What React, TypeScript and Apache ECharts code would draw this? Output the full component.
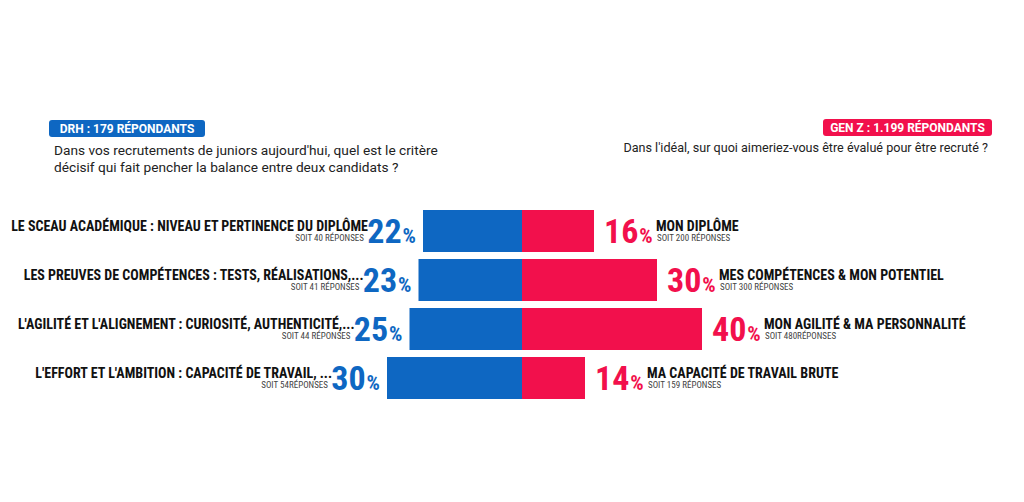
import React, { useEffect, useRef } from "react";
import * as echarts from "echarts";

// Survey results: recruiters (DRH) on the left, Gen Z candidates on the right
const rows = ["1", "2", "3", "4"];

const drhCriteria = [
  "LE SCEAU ACADÉMIQUE : NIVEAU ET PERTINENCE DU DIPLÔME",
  "LES PREUVES DE COMPÉTENCES : TESTS, RÉALISATIONS,...",
  "L'AGILITÉ ET L'ALIGNEMENT : CURIOSITÉ, AUTHENTICITÉ,...",
  "L'EFFORT ET L'AMBITION : CAPACITÉ DE TRAVAIL, ...",
];
const drhValues = [22, 23, 25, 30];
const drhCounts = [
  "SOIT 40 RÉPONSES",
  "SOIT 41 RÉPONSES",
  "SOIT 44 RÉPONSES",
  "SOIT 54RÉPONSES",
];

const genzCriteria = [
  "MON DIPLÔME",
  "MES COMPÉTENCES & MON POTENTIEL",
  "MON AGILITÉ & MA PERSONNALITÉ",
  "MA CAPACITÉ DE TRAVAIL BRUTE",
];
const genzValues = [16, 30, 40, 14];
const genzCounts = [
  "SOIT 200 RÉPONSES",
  "SOIT 300 RÉPONSES",
  "SOIT 480RÉPONSES",
  "SOIT 159 RÉPONSES",
];

const drhBadge = "DRH : 179 RÉPONDANTS";
const drhQuestion = [
  "Dans vos recrutements de juniors aujourd'hui, quel est le critère",
  "décisif qui fait pencher la balance entre deux candidats ?",
];
const genzBadge = "GEN Z : 1.199 RÉPONDANTS";
const genzQuestion = "Dans l'idéal, sur quoi aimeriez-vous être évalué pour être recruté ?";

const BLUE = "#0E67C2";
const RED = "#F2104C";
const NARROW = "'Liberation Sans Narrow', 'Roboto Condensed', 'Arial Narrow', Roboto, sans-serif";
const UI = "Roboto, 'Noto Sans', sans-serif";

const pctRich = (color: string) => ({
  n: { fontFamily: NARROW, fontSize: 34, fontWeight: "bold", color, lineHeight: 34, verticalAlign: "bottom" },
  p: { fontFamily: NARROW, fontSize: 21, fontWeight: "bold", color, lineHeight: 21, verticalAlign: "bottom", padding: [0, 0, 2, 1] },
});

const nameRich = (align: string) => ({
  a: { fontFamily: NARROW, fontSize: 14, fontWeight: "bold", color: "#111", lineHeight: 13, align },
  b: {
    fontFamily: NARROW,
    fontSize: 9,
    color: "#444",
    lineHeight: 10,
    align,
    padding: align === "right" ? [0, 4, 0, 0] : [0, 0, 0, 1],
  },
});

export default function App() {
  const ref = useRef<HTMLDivElement>(null);

  useEffect(() => {
    if (!ref.current) return;
    const chart = echarts.init(ref.current, null, { renderer: "svg" });

    chart.setOption({
      animation: false,
      backgroundColor: "#fff",
      grid: { left: 297, width: 450, top: 206.5, height: 196 },
      xAxis: { type: "value", min: -50, max: 50, show: false },
      yAxis: { type: "category", data: rows, inverse: true, show: false },
      series: [
        {
          type: "bar",
          name: "DRH",
          data: drhValues.map((v) => -v),
          barWidth: 42,
          barGap: "-100%",
          itemStyle: { color: BLUE },
          label: {
            show: true,
            position: "left",
            distance: 7,
            formatter: (p: any) => `{n|${Math.abs(p.value)}}{p|%}`,
            rich: pctRich(BLUE),
          },
        },
        {
          type: "bar",
          name: "DRH-criteria",
          data: drhValues.map((v) => -v),
          barWidth: 42,
          barGap: "-100%",
          silent: true,
          itemStyle: { color: "transparent" },
          label: {
            show: true,
            position: "left",
            distance: 55,
            align: "right",
            formatter: (p: any) => `{a|${drhCriteria[p.dataIndex]}}\n{b|${drhCounts[p.dataIndex]}}`,
            rich: nameRich("right"),
          },
        },
        {
          type: "bar",
          name: "GEN Z",
          data: genzValues,
          barWidth: 42,
          barGap: "-100%",
          itemStyle: { color: RED },
          label: {
            show: true,
            position: "right",
            distance: 10,
            formatter: (p: any) => `{n|${p.value}}{p|%}`,
            rich: pctRich(RED),
          },
        },
        {
          type: "bar",
          name: "GEN Z-criteria",
          data: genzValues,
          barWidth: 42,
          barGap: "-100%",
          silent: true,
          itemStyle: { color: "transparent" },
          label: {
            show: true,
            position: "right",
            distance: 62,
            align: "left",
            formatter: (p: any) => `{a|${genzCriteria[p.dataIndex]}}\n{b|${genzCounts[p.dataIndex]}}`,
            rich: nameRich("left"),
          },
        },
      ],
      graphic: [
        { type: "rect", shape: { x: 49, y: 120, width: 156, height: 17, r: 3 }, style: { fill: BLUE } },
        {
          type: "text",
          x: 127,
          y: 128.5,
          style: { text: drhBadge, fill: "#fff", font: `bold 12px ${UI}`, align: "center", verticalAlign: "middle" },
        },
        {
          type: "text",
          x: 54,
          y: 150,
          style: { text: drhQuestion[0], fill: "#222", font: `13.7px ${UI}`, align: "left", verticalAlign: "middle" },
        },
        {
          type: "text",
          x: 54,
          y: 167,
          style: { text: drhQuestion[1], fill: "#222", font: `13.7px ${UI}`, align: "left", verticalAlign: "middle" },
        },
        { type: "rect", shape: { x: 823, y: 119, width: 169, height: 17, r: 3 }, style: { fill: RED } },
        {
          type: "text",
          x: 907.5,
          y: 127.5,
          style: { text: genzBadge, fill: "#fff", font: `bold 12px ${UI}`, align: "center", verticalAlign: "middle" },
        },
        {
          type: "text",
          x: 988,
          y: 147,
          style: { text: genzQuestion, fill: "#222", font: `12.6px ${UI}`, align: "right", verticalAlign: "middle" },
        },
      ],
    });

    return () => chart.dispose();
  }, []);

  return (
    <div
      ref={ref}
      style={{ position: "fixed", left: 0, top: 0, width: 1024, height: 502, background: "#fff" }}
    />
  );
}
